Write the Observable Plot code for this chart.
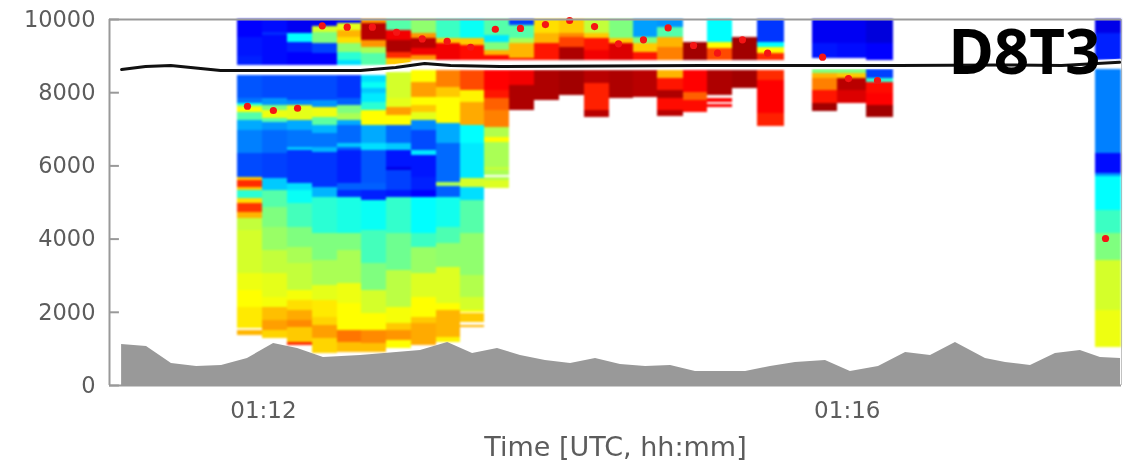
<!DOCTYPE html>
<html>
<head>
<meta charset="utf-8">
<script src="https://cdn.jsdelivr.net/npm/d3@7"></script>
<script src="https://cdn.jsdelivr.net/npm/@observablehq/plot@0.6"></script>
<style>
html,body{margin:0;padding:0;background:#fff}
svg{display:block;filter:blur(0.6px)}
svg g[aria-label="rect"]{filter:blur(1.1px)}
</style>
</head>
<body>
<div id="chart"></div>
<script>
// Column edges, seconds after 01:12 UTC
const colEdges = [[-12.4,-2.1],[-2.1,8.3],[8.3,18.6],[18.6,28.9],[28.9,38.8],[38.8,49.2],[49.2,59.5],[59.5,69.8],[69.8,79.7],[79.7,89.6],[89.6,100],[100,110.3],[110.3,120.6],[120.6,131],[131,141.3],[141.3,151.2],[151.2,161.1],[161.1,171.9],[171.9,181.8],[181.8,192.1],[192.1,202.4],[202.4,213.6],[225.1,235.5],[235.5,247.4],[247.4,258.6],[342,352.8]];

// Each profile: [altitude where the layer starts going down, normalised reflectivity]; null = no data
const c0 = [[10000,.11],[9500,.13],[9000,.14],[8742,null],[8469,.19],[7832,.22],[7695,.36],[7650,.55],[7604,.65],[7467,.45],[7240,.27],[6966,.23],[6329,.18],[5691,.7],[5600,.85],[5418,.7],[5327,.4],[5099,.68],[4963,.84],[4735,.72],[4553,.58],[4234,.6],[3050,.63],[2595,.65],[2140,.67],[1548,null],[1502,.72],[1365,null]];
const c1 = [[10000,.12],[9653,.15],[9562,.12],[8742,null],[8469,.18],[7832,.25],[7650,.5],[7513,.63],[7285,.45],[7194,.25],[6966,.21],[6329,.17],[5646,.3],[5327,.45],[4872,.5],[4325,.53],[3688,.58],[3050,.62],[2413,.64],[2140,.71],[1775,.74],[1502,.69],[1274,null]];
const c2 = [[10000,.1],[9607,.35],[9380,.14],[9107,.11],[8742,null],[8469,.18],[7786,.24],[7650,.62],[7240,.27],[6966,.22],[6511,.3],[6420,.16],[5509,.32],[5327,.36],[4963,.43],[4325,.5],[3779,.55],[3323,.58],[2595,.64],[2322,.68],[2049,.73],[1775,.76],[1593,.7],[1183,.85],[1092,null]];
const c3 = [[10000,.1],[9808,.6],[9653,.5],[9334,.17],[9061,.11],[8742,null],[8469,.18],[7786,.25],[7604,.63],[7331,.46],[7103,.28],[6875,.22],[6511,.28],[6375,.16],[5418,.28],[5145,.4],[4143,.5],[3414,.55],[2731,.62],[2322,.67],[1866,.69],[1639,.74],[1274,.69],[865,null]];
const c4 = [[10000,.12],[9881,.62],[9699,.72],[9516,.68],[9334,.52],[9107,.4],[8879,.32],[8742,null],[8469,.16],[7832,.2],[7650,.5],[7422,.55],[7240,.27],[7103,.21],[6602,.3],[6511,.2],[6420,.14],[5509,.2],[5327,.15],[5145,.38],[4143,.5],[3688,.55],[2777,.63],[2231,.65],[1502,.78],[1183,.71],[910,null]];
const c5 = [[10000,.75],[9881,.95],[9425,.75],[9243,.55],[9061,.45],[8742,null],[8469,.32],[8287,.36],[8105,.3],[7968,.33],[7741,.4],[7513,.65],[7103,.27],[6602,.32],[6420,.19],[5509,.2],[5327,.14],[5054,.36],[4234,.43],[3323,.5],[2595,.6],[1957,.65],[1502,.76],[1138,.71],[910,null]];
const c6 = [[10000,.45],[9699,.9],[9425,.96],[9107,.85],[8924,.7],[8742,null],[8560,.6],[7832,.62],[7604,.74],[7376,.65],[7103,.21],[6602,.3],[6420,.13],[5965,.09],[5874,.17],[5327,.13],[5145,.41],[4143,.48],[3141,.57],[2140,.64],[1684,.7],[1502,.75],[1229,.65],[1001,null]];
const c7 = [[10000,.52],[9607,.75],[9471,.95],[9198,.9],[9016,.75],[8879,null],[8606,.65],[8287,.74],[7877,.65],[7650,.7],[7467,.62],[7240,.24],[6966,.18],[6420,.33],[6283,.13],[5691,.14],[5327,.11],[5145,.35],[4143,.42],[3779,.53],[3050,.61],[2413,.65],[1866,.7],[1684,.73],[1092,null]];
const c8 = [[10000,.42],[9471,.7],[9334,.9],[8879,null],[8606,.77],[8150,.7],[7877,.65],[7149,.27],[6602,.21],[5555,.55],[5436,.2],[5145,.37],[4325,.44],[3870,.52],[3232,.61],[2231,.65],[2049,.72],[1320,.66],[1183,null]];
const c9 = [[10000,.36],[9471,.7],[9289,.88],[8879,null],[8606,.82],[8059,.66],[7741,.73],[7103,.35],[6602,.33],[5646,.6],[5418,.32],[5054,.45],[4143,.52],[3000,.56],[2413,.6],[2049,.65],[2003,null],[1957,.7],[1730,null],[1639,.72],[1575,null]];
const c10 = [[10000,.45],[9562,.33],[9380,.5],[9152,.72],[9016,.88],[8879,null],[8606,.89],[8059,.87],[7832,.8],[7513,.77],[7058,.56],[6784,.65],[6648,.55],[5965,.58],[5874,.55],[5737,null],[5691,.56],[5600,.61],[5373,null]];
const c11 = [[10000,.17],[9835,.45],[9471,.55],[9334,.72],[8924,.88],[8879,null],[8606,.9],[8196,.96],[7513,null]];
const c12 = [[10000,.68],[9607,.72],[9334,.87],[8879,null],[8606,.96],[7786,null]];
const c13 = [[10000,.7],[9607,.76],[9516,.83],[9243,.96],[8879,null],[8606,.97],[7923,null]];
const c14 = [[10000,.58],[9607,.7],[9471,.87],[9152,.9],[8879,null],[8606,.95],[8241,.86],[7513,.95],[7331,null]];
const c15 = [[10000,.5],[9471,.7],[9334,.92],[8879,null],[8606,.96],[7832,null]];
const c16 = [[10000,.26],[9516,.5],[9334,.7],[9107,.87],[8879,null],[8606,.95],[7877,null]];
const c17 = [[10000,.25],[9790,.45],[9516,.72],[9243,.77],[8879,null],[8606,.72],[8378,.87],[8059,.96],[7832,.88],[7513,.95],[7350,null]];
const c18 = [[9380,.97],[8879,null],[8606,.89],[8014,.8],[7786,.88],[7467,null]];
const c19 = [[10000,.35],[9380,.65],[9198,.82],[8879,null],[8606,.96],[7923,null],[7832,.89],[7741,null],[7676,.89],[7604,null]];
const c20 = [[9516,.97],[8879,null],[8606,.97],[8105,null]];
const c21 = [[10000,.16],[9380,.35],[9243,.65],[9061,.85],[8879,null],[8606,.85],[8332,.89],[7422,.86],[7085,null]];
const c22 = [[10000,.1],[9334,.13],[8924,null],[8624,.5],[8515,.72],[8378,.77],[8059,.87],[7695,.97],[7495,null]];
const c23 = [[10000,.1],[9334,.12],[8924,null],[8624,.5],[8533,.7],[8378,.95],[8059,.92],[7695,null]];
const c24 = [[10000,.08],[9334,.11],[8879,null],[8624,.17],[8378,.4],[8287,.88],[7968,.89],[7650,.97],[7313,null]];
const c25 = [[10000,.09],[9607,.14],[8879,null],[8624,.23],[6338,.12],[5792,.25],[5710,.35],[4780,.42],[4153,.5],[3415,.6],[2050,.63],[1038,null]];
const profiles = [c0,c1,c2,c3,c4,c5,c6,c7,c8,c9,c10,c11,c12,c13,c14,c15,c16,c17,c18,c19,c20,c21,c22,c23,c24,c25];

// Terrain height (grey)
const terrainT = [-60.3,-50,-39.7,-29.3,-19,-8.3,2.5,12.4,23.1,38.4,63.2,74.4,84.7,95,104.5,114.8,125.2,135.5,145.8,156.2,166.5,176.8,187.1,197.5,207.8,218.1,230.5,240.8,252.4,263.6,273.9,284.2,296.6,304.9,315.2,325.5,335.8,344.1,352.4];
const terrainH = [1120,1065,600,520,546,738,1147,1010,765,820,956,1175,874,1010,820,683,600,738,574,520,546,382,382,382,520,628,683,382,520,900,820,1175,738,628,546,874,956,765,738];

// Aircraft altitude (black line)
const flightT = [-60.3,-50.4,-40,-19.4,13.6,38.4,52.9,64.9,75.6,96,179,261,303,328,352];
const flightA = [8633,8715,8742,8606,8606,8606,8688,8797,8742,8715,8740,8742,8760,8742,8830];

// Red dots
const dotT = [-8.3,2.4,12.4,22.6,32.9,43.3,53.3,63.9,74.2,83.9,94.1,104.5,114.8,124.8,135.1,145,155.3,165.5,176,185.9,196.2,206.6,229.3,240,252,346.2];
const dotA = [7630,7513,7575,9827,9790,9790,9652,9470,9405,9242,9734,9757,9862,9972,9807,9335,9444,9770,9290,9080,9444,9080,8970,8387,8332,4016];

const yTicks = [0,2000,4000,6000,8000,10000];
const xTicks = [-1.7,239.5];
const xTickLabels = ["01:12","01:16"];
const xDomain = [-65.3,352.8];
const tickLengthSeconds = 4.1;
const jetStops = [0,.11,.35,.5,.65,.89,1];
const jetColors = ["#00007f","#0000ff","#00ffff","#7fff7f","#ffff00","#ff0000","#7f0000"];

const cells = profiles.flatMap((p,i)=>p.flatMap((d,j)=>{
  if (d[1]===null || j===p.length-1) return [];
  return [{x1:colEdges[i][0],x2:colEdges[i][1],y1:p[j+1][0],y2:d[0],v:d[1]}];
}));
const terrain = terrainT.map((t,i)=>({t,h:terrainH[i]}));
const flight = flightT.map((t,i)=>({t,a:flightA[i]}));
const dots = dotT.map((t,i)=>({t,a:dotA[i]}));
const frameColor = "#999999", textColor = "#5c5c5c";

const chart = Plot.plot({
  width:1127, height:469,
  marginLeft:109, marginRight:6, marginTop:19, marginBottom:84,
  style:{background:"#fff",fontFamily:"'DejaVu Sans',sans-serif"},
  x:{domain:xDomain},
  y:{domain:[0,10000]},
  color:{type:"linear",domain:jetStops,range:jetColors,interpolate:"rgb"},
  marks:[
    Plot.rect(cells,{x1:"x1",x2:"x2",y1:"y1",y2:"y2",fill:"v",shapeRendering:"crispEdges"}),
    Plot.areaY(terrain,{x:"t",y:"h",fill:"#999999"}),
    Plot.line(flight,{x:"t",y:"a",stroke:"#ffffff",strokeWidth:7,strokeOpacity:.8}),
    Plot.line(flight,{x:"t",y:"a",stroke:"#111111",strokeWidth:3}),
    Plot.dot(dots,{x:"t",y:"a",r:3.6,fill:"#f51414"}),
    Plot.ruleY(yTicks,{x1:xDomain[0],x2:xDomain[0]+tickLengthSeconds,stroke:frameColor,strokeWidth:2}),
    Plot.ruleX([xDomain[0]],{stroke:frameColor,strokeWidth:2}),
    Plot.ruleX([xDomain[1]],{stroke:frameColor,strokeWidth:1,strokeOpacity:.6}),
    Plot.ruleY([0,10000],{stroke:frameColor,strokeWidth:2}),
    Plot.axisY({ticks:yTicks,tickSize:0,tickPadding:14,tickFormat:d=>String(d),label:null,fontSize:22.5,color:textColor}),
    Plot.axisX({ticks:xTicks,tickSize:0,tickPadding:16,tickFormat:d=>xTickLabels[xTicks.indexOf(d)],label:null,fontSize:23,color:textColor}),
    Plot.text(["Time [UTC, hh:mm]"],{frameAnchor:"bottom",lineAnchor:"middle",dy:62,fontSize:27,fill:textColor}),
    Plot.text(["D8T3"],{frameAnchor:"top-right",lineAnchor:"middle",dx:-21,dy:35,fontSize:62,fontWeight:700,fill:"#000",fontFamily:"'Noto Sans',sans-serif",textAnchor:"end"})
  ]
});
document.getElementById("chart").append(chart);
</script>
</body>
</html>
